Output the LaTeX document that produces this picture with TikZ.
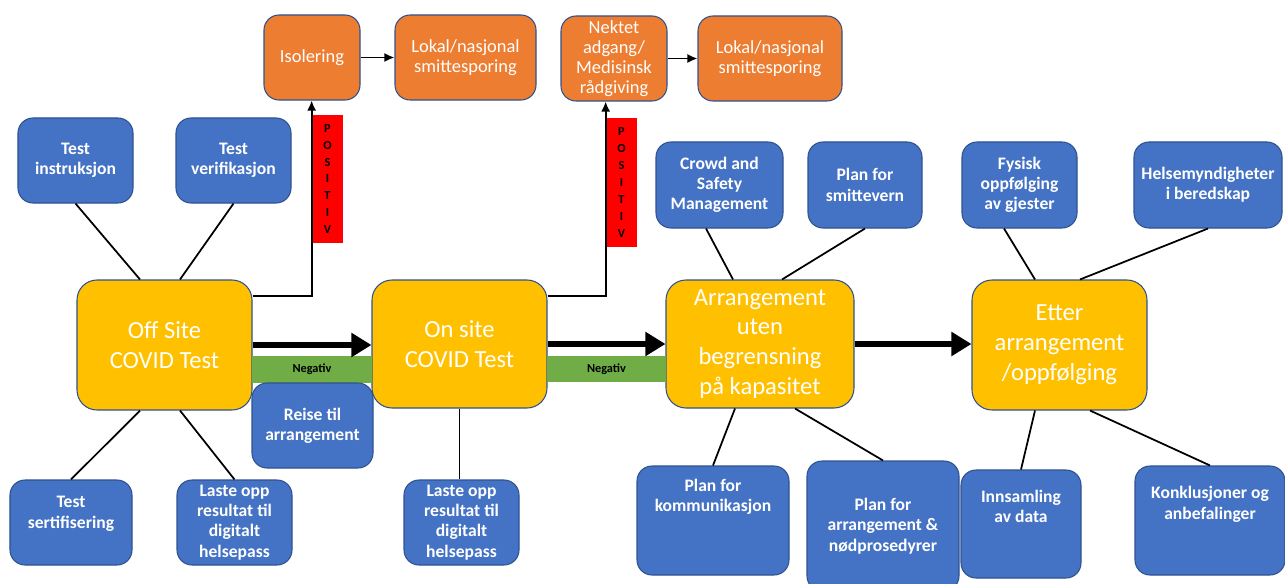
\documentclass[tikz,border=0pt]{standalone}
\usepackage{fontspec}
\setmainfont{Carlito}
\usetikzlibrary{arrows.meta}
\definecolor{boxblue}{HTML}{4472C4}
\definecolor{boxedge}{HTML}{2F528F}
\definecolor{boxorange}{HTML}{ED7D31}
\definecolor{boxyellow}{HTML}{FFC000}
\definecolor{neggreen}{HTML}{70AD47}
\begin{document}
\begin{tikzpicture}[x=0.2mm,y=-0.2mm]
	\tikzstyle{every node}+=[inner sep=0pt, align=center]
	\tikzstyle{task}=[draw=boxedge, line width=0.6pt, fill=boxblue, rounded corners=3mm, text=white, font=\bfseries\fontsize{10}{11.5}\selectfont]
	\tikzstyle{alert}=[draw=boxedge, line width=0.6pt, fill=boxorange, rounded corners=3mm, text=white, font=\fontsize{10.5}{11.5}\selectfont]
	\tikzstyle{phase}=[draw=boxedge, line width=0.6pt, fill=boxyellow, rounded corners=4mm, text=white, font=\fontsize{14}{17}\selectfont]
	\tikzstyle{link}=[black, line width=1pt]
	\tikzstyle{flow}=[black, line width=3.2pt, -{Triangle[length=4mm,width=4.6mm]}]
	\tikzstyle{tag}=[font=\bfseries\fontsize{7}{9.6}\selectfont]
	\clip (0,0) rectangle (1285,584);

	% phases
	\node[phase, minimum width=35mm, minimum height=26mm] (off) at (164.5,345) {Off Site\\COVID Test};
	\node[phase, minimum width=35mm, minimum height=25.6mm] (on) at (459.5,344) {On site\\COVID Test};
	\node[phase, minimum width=37.6mm, minimum height=25.6mm] (arr) at (760,344) {Arrangement\\uten\\begrensning\\på kapasitet};
	\node[phase, minimum width=35mm, minimum height=26mm] (etter) at (1059.5,345) {Etter\\arrangement\\/oppfølging};

	% positive results
	\node[alert, minimum width=19.2mm, minimum height=17mm] (iso) at (312,57.5) {Isolering};
	\node[alert, minimum width=28.2mm, minimum height=17mm] (lok1) at (465.5,57.5) {Lokal/nasjonal\\smittesporing};
	\node[alert, minimum width=21.2mm, minimum height=17mm] (nek) at (614,58.5) {Nektet\\adgang/\\Medisinsk\\rådgiving};
	\node[alert, minimum width=28.8mm, minimum height=17mm] (lok2) at (770,58.5) {Lokal/nasjonal\\smittesporing};
	\draw[link, -{Latex[length=2mm,width=1.8mm]}] (iso) -- (lok1);
	\draw[link, -{Latex[length=2mm,width=1.8mm]}] (nek) -- (lok2);

	\node[tag, fill=red, minimum width=6.2mm, minimum height=25.6mm] (pos1) at (327.5,179) {P\\O\\S\\I\\T\\I\\V};
	\node[tag, fill=red, minimum width=6.2mm, minimum height=25.8mm] (pos2) at (621.5,182.5) {P\\O\\S\\I\\T\\I\\V};
	\draw[link, -{Latex[length=2mm,width=1.8mm]}] ([yshift=9.8mm]off.east) -| (pos1.west |- iso.south);
	\draw[link, -{Latex[length=2mm,width=1.8mm]}] ([yshift=9.6mm]on.east) -| (pos2.west |- nek.south);

	% negative results
	\node[tag, fill=neggreen, minimum width=24mm, minimum height=5.4mm] (neg1) at (312,369.5) {Negativ};
	\node[tag, fill=neggreen, minimum width=23.8mm, minimum height=5.2mm] (neg2) at (606.5,369) {Negativ};
	\draw[flow] (off.east) -- (off.east -| on.west);
	\draw[flow] (on.east) -- (on.east -| arr.west);
	\draw[flow] (arr.east) -- (arr.east -| etter.west);

	% tasks
	\node[task, minimum width=23mm, minimum height=17mm] (tins) at (75.5,160.5) {Test\\instruksjon};
	\node[task, minimum width=23mm, minimum height=17mm] (tver) at (233.5,160.5) {Test\\verifikasjon};
	\node[task, minimum width=24.4mm, minimum height=17mm] (tser) at (71,522.5) {Test\\sertifisering\\[0mm]};
	\node[task, minimum width=23mm, minimum height=17mm] (last1) at (234.5,522.5) {Laste opp\\resultat til\\digitalt\\helsepass};
	\node[task, minimum width=24.2mm, minimum height=17mm] (reise) at (312.5,425.5) {Reise til\\arrangement};
	\node[task, minimum width=23mm, minimum height=17mm] (last2) at (461.5,522.5) {Laste opp\\resultat til\\digitalt\\helsepass};
	\node[task, minimum width=25.4mm, minimum height=17.2mm] (crowd) at (719.5,185) {Crowd and\\Safety\\Management};
	\node[task, minimum width=22.8mm, minimum height=17.2mm] (smit) at (865,185) {Plan for\\smittevern};
	\node[task, minimum width=23mm, minimum height=17.2mm] (fys) at (1019.5,185) {Fysisk\\oppfølging\\av gjester};
	\node[task, minimum width=29.6mm, minimum height=17.2mm] (helse) at (1208,185) {Helsemyndigheter\\i beredskap};
	\node[task, minimum width=30.4mm, minimum height=21.8mm] (komm) at (713,520.5) {Plan for\\kommunikasjon\\[6mm]};
	\node[task, minimum width=30.4mm, minimum height=26mm] (plan) at (883,526) {Plan for\\arrangement \&\\nødprosedyrer};
	\node[task, minimum width=24mm, minimum height=21.6mm] (inns) at (1021,524) {Innsamling\\av data\\[3mm]};
	\node[task, minimum width=30mm, minimum height=21.8mm] (konk) at (1210,520.5) {Konklusjoner og\\anbefalinger\\[3mm]};

	\draw[link] (tins.south) -- ([xshift=-4.9mm]off.north);
	\draw[link] (tver.south) -- ([xshift=3.1mm]off.north);
	\draw[link] (tser.north) -- ([xshift=-4.9mm]off.south);
	\draw[link] (last1.north) -- ([xshift=3.1mm]off.south);
	\draw[link] (on.south) -- (on.south |- last2.north);
	\draw[link] ([xshift=-2.7mm]crowd.south) -- ([xshift=-5.4mm]arr.north);
	\draw[link] (smit.south) -- ([xshift=4.4mm]arr.north);
	\draw[link] ([xshift=-3.1mm]fys.south) -- ([xshift=-4.9mm]etter.north);
	\draw[link] (helse.south) -- ([xshift=4.1mm]etter.north);
	\draw[link] ([xshift=-5mm]arr.south) -- (komm.north);
	\draw[link] ([xshift=7mm]arr.south) -- (plan.north);
	\draw[link] ([xshift=-4.9mm]etter.south) -- (inns.north);
	\draw[link] ([xshift=6.1mm]etter.south) -- (konk.north);
\end{tikzpicture}
\end{document}
